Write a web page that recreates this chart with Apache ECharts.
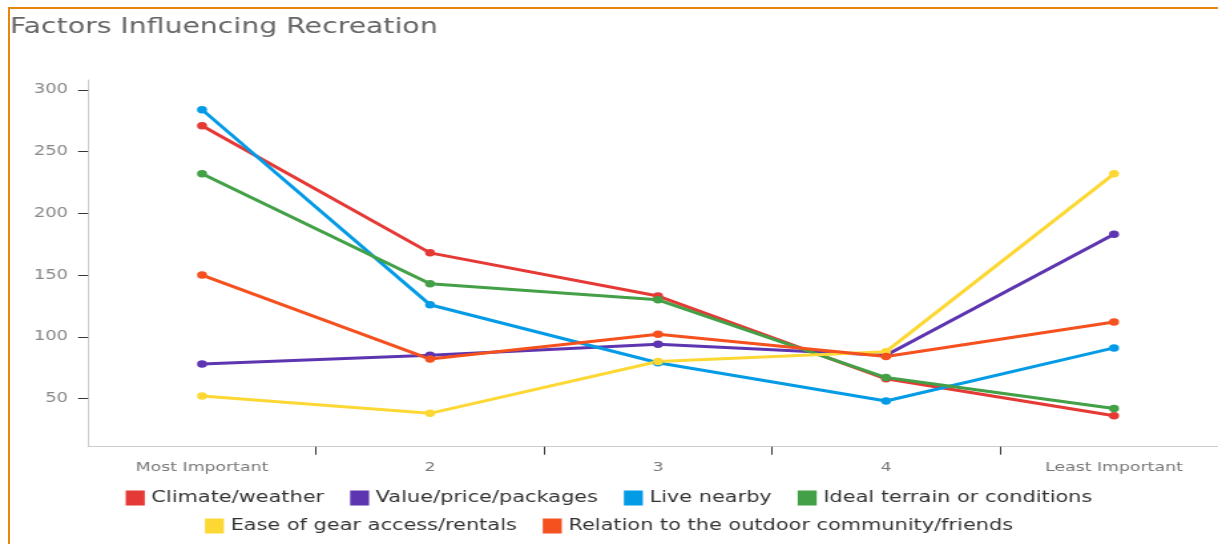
<!DOCTYPE html>
<html>
<head>
<meta charset="utf-8">
<script src="https://cdn.jsdelivr.net/npm/echarts@6/dist/echarts.min.js"></script>
<style>
  html, body { margin: 0; padding: 0; background: #fff; width: 1218px; height: 544px; overflow: hidden; }
  #wrap { position: absolute; left: 0; top: 0; width: 916px; height: 544px; transform: scaleX(1.3297); transform-origin: 0 0; }
  #chart { width: 916px; height: 544px; }
  #frame { position: absolute; left: 8px; top: 7px; right: -4px; bottom: -4px; border-top: 2px solid #e8850c; border-left: 2px solid #e8850c; pointer-events: none; }
</style>
</head>
<body>
<div id="wrap"><div id="chart"></div></div>
<div id="frame"></div>
<script>
const titleText = 'Factors Influencing Recreation';
const categories = ['Most Important', '2', '3', '4', 'Least Important'];
const yTicks = [50, 100, 150, 200, 250, 300];
const seriesNames = [
  'Climate/weather',
  'Value/price/packages',
  'Live nearby',
  'Ideal terrain or conditions',
  'Ease of gear access/rentals',
  'Relation to the outdoor community/friends'
];
const climateWeather = [271, 168, 133, 66, 36];
const valuePricePackages = [78, 85, 94, 85, 183];
const liveNearby = [284, 126, 79, 48, 91];
const idealTerrain = [232, 143, 130, 67, 42];
const easeOfGear = [52, 38, 80, 88, 232];
const outdoorCommunity = [150, 82, 102, 84, 112];
const seriesValues = [climateWeather, valuePricePackages, liveNearby, idealTerrain, easeOfGear, outdoorCommunity];
const colors = ['#e53935', '#5e35b1', '#039be5', '#43a047', '#fdd835', '#f4511e'];

const FONT = 'DejaVu Sans';
const chart = echarts.init(document.getElementById('chart'), null, { renderer: 'canvas' });

const legendCommon = {
  icon: 'rect',
  itemWidth: 14.3,
  itemHeight: 15,
  itemGap: 19.5,
  left: 'center',
  padding: 0,
  textStyle: { fontFamily: FONT, fontSize: 15.7, color: '#333' }
};

chart.setOption({
  animation: false,
  color: colors,
  title: {
    text: titleText,
    left: 7.5,
    top: 17,
    padding: 0,
    textStyle: { fontFamily: FONT, fontSize: 21.3, fontWeight: 'normal', color: '#666' }
  },
  legend: [
    Object.assign({}, legendCommon, { data: seriesNames.slice(0, 4), top: 490 }),
    Object.assign({}, legendCommon, { data: seriesNames.slice(4), top: 518 })
  ],
  grid: { left: 66.2, right: -7.5, top: 80, bottom: 97.3, containLabel: false, outerBoundsMode: 'none' },
  xAxis: {
    type: 'category',
    data: categories,
    boundaryGap: true,
    axisLine: { lineStyle: { color: '#ccc', width: 1 } },
    axisTick: { show: true, length: 8, lineStyle: { color: '#333' }, interval: function (i) { return i !== 0; } },
    axisLabel: { margin: 14, fontFamily: FONT, fontSize: 13, color: '#777' },
    splitLine: { show: false }
  },
  yAxis: {
    type: 'value',
    min: 11,
    max: 308,
    axisLine: { show: true, lineStyle: { color: '#ccc', width: 1 } },
    axisTick: { show: true, length: 7.5, lineStyle: { color: '#333' }, customValues: yTicks },
    axisLabel: { margin: 15, fontFamily: FONT, fontSize: 13.5, color: '#888', customValues: yTicks },
    splitLine: { show: false }
  },
  series: seriesNames.map(function (name, i) {
    return {
      name: name,
      type: 'line',
      data: seriesValues[i],
      symbol: 'circle',
      symbolSize: 7.5,
      showSymbol: true,
      lineStyle: { width: 3, color: colors[i] },
      itemStyle: { color: colors[i] },
      emphasis: { disabled: true }
    };
  })
});
</script>
</body>
</html>
